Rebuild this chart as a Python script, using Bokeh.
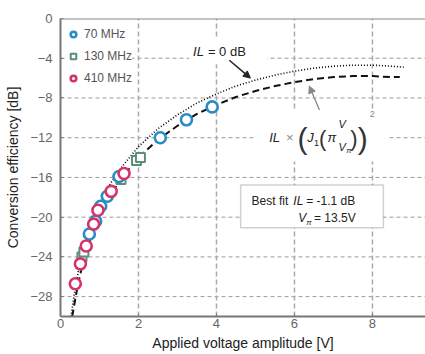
from bokeh.plotting import figure
from bokeh.models import (Arrow, NormalHead, Label, BoxAnnotation, Span, FixedTicker,
                          Range1d, Legend, LegendItem)
from bokeh.embed import file_html
from bokeh.resources import INLINE

# ---- data ----
v70 = [0.74, 0.90, 1.03, 1.20, 1.50, 2.56, 3.23, 3.89]
eff70 = [-21.7, -20.4, -18.9, -17.9, -15.9, -12.0, -10.2, -8.9]
v130 = [0.55, 0.60, 1.55, 1.95, 2.05]
eff130 = [-24.0, -23.5, -16.2, -14.3, -14.0]
v410 = [0.38, 0.51, 0.66, 0.85, 0.96, 1.30, 1.63]
eff410 = [-26.7, -24.7, -22.9, -20.7, -19.3, -17.4, -15.6]

ideal_v = [0.27, 0.35, 0.45, 0.6, 0.8, 1.0, 1.3, 1.6, 2.0, 2.5, 3.0, 3.5, 4.0, 4.5,
           5.0, 5.5, 6.0, 6.5, 7.0, 7.5, 8.0, 8.5, 8.8]
ideal_db = [-30.0, -27.8, -25.6, -23.1, -20.7, -18.7, -16.5, -14.8, -12.9, -11.1, -9.7,
            -8.5, -7.6, -6.8, -6.2, -5.7, -5.3, -5.0, -4.8, -4.7, -4.7, -4.8, -4.9]
fit_v = [0.3, 0.35, 0.45, 0.6, 0.8, 1.0, 1.3, 1.6, 2.0, 2.5, 3.0, 3.5, 4.0, 4.5,
         5.0, 5.5, 6.0, 6.5, 7.0, 7.5, 8.0, 8.5, 8.7]
fit_db = [-30.0, -28.9, -26.7, -24.2, -21.8, -19.8, -17.6, -15.9, -14.0, -12.2, -10.8,
          -9.6, -8.7, -7.9, -7.3, -6.8, -6.4, -6.1, -5.9, -5.8, -5.8, -5.9, -5.9]

x_ticks = [0, 2, 4, 6, 8]
y_ticks = [-28, -24, -20, -16, -12, -8, -4, 0]
y_min, y_max = -30, 0

BLUE = "#2a8cc4"
GREEN = "#5a8f76"
PINK = "#d6336c"
FONT = "Liberation Sans"

p = figure(width=425, height=354, x_range=Range1d(0, 9.36), y_range=Range1d(y_min, y_max),
           output_backend="svg", toolbar_location=None,
           min_border_left=60, min_border_right=0, min_border_top=18, min_border_bottom=38)
p.outline_line_color = None
p.background_fill_color = "white"
p.grid.visible = False

# axes
p.xaxis.ticker = FixedTicker(ticks=x_ticks)
p.yaxis.ticker = FixedTicker(ticks=y_ticks)
for ax in (p.xaxis[0], p.yaxis[0]):
    ax.axis_line_color = "#777777"
    ax.axis_line_width = 2
    ax.major_tick_line_color = "#777777"
    ax.major_tick_in = 3
    ax.major_tick_out = 0
    ax.minor_tick_line_color = None
    ax.major_label_text_font = FONT
    ax.major_label_text_font_size = "13px"
    ax.major_label_text_color = "#666666"
    ax.axis_label_text_font = FONT
    ax.axis_label_text_font_size = "14px"
    ax.axis_label_text_font_style = "normal"
    ax.axis_label_text_color = "#222222"
p.xaxis.axis_label = "Applied voltage amplitude [V]"
p.yaxis.axis_label = "Conversion efficiency [dB]"
p.xaxis.major_label_standoff = 2
p.xaxis.axis_label_standoff = 4
p.yaxis.major_label_standoff = 8
p.yaxis.axis_label_standoff = 6

# grid lines at the tick positions
vx = x_ticks[1:]
p.segment(x0=vx, y0=[y_min] * len(vx), x1=vx, y1=[y_max] * len(vx),
          line_color="#aaaaaa", line_width=1.5, line_dash="5 3")
for t in y_ticks[:-1]:
    p.add_layout(Span(location=t, dimension="width", line_color="#9c9c9c", line_width=1,
                      line_dash="4 3", level="underlay"))

p.add_layout(Span(location=0, dimension="width", line_color="#888888", line_width=2))

# curves
p.line(ideal_v, ideal_db, line_color="black", line_width=1.6, line_dash="1 2")
p.line(fit_v, fit_db, line_color="#111111", line_width=2, line_dash="7 4")

# data
r130 = p.scatter(v130, eff130, marker="square", size=9, line_color=GREEN, line_width=2,
                 fill_color="white")
r70 = p.scatter(v70, eff70, marker="circle", size=11, line_color=BLUE, line_width=2.6,
                fill_color="white")
r410 = p.scatter(v410, eff410, marker="circle", size=11, line_color=PINK, line_width=2.6,
                 fill_color="white")

legend = Legend(items=[LegendItem(label="70 MHz", renderers=[r70]),
                       LegendItem(label="130 MHz", renderers=[r130]),
                       LegendItem(label="410 MHz", renderers=[r410])],
                location="top_left")
legend.background_fill_color = "white"
legend.background_fill_alpha = 1
legend.border_line_color = None
legend.margin = 6
legend.padding = 5
legend.spacing = 2
legend.glyph_width = 14
legend.glyph_height = 20
legend.label_height = 20
legend.label_standoff = 4
legend.label_text_font = FONT
legend.label_text_font_size = "12px"
legend.label_text_color = "#555555"
p.add_layout(legend)

# white patches behind annotations
p.add_layout(BoxAnnotation(left=3.3, right=5.3, top=-2.0, bottom=-4.6,
                           fill_color="white", fill_alpha=1, line_color=None))
p.add_layout(BoxAnnotation(left=5.0, right=8.4, top=-9.3, bottom=-14.4,
                           fill_color="white", fill_alpha=1, line_color=None))


def lab(x, y, text, size="12px", style="normal", color="#222222", align="left",
        baseline="middle"):
    p.add_layout(Label(x=x, y=y, text=text, text_font=FONT, text_font_size=size,
                       text_font_style=style, text_color=color, text_align=align,
                       text_baseline=baseline))


# "IL = 0 dB"
lab(3.4, -3.3, "IL", size="13px", style="italic")
lab(3.78, -3.3, "= 0 dB", size="13px")
p.add_layout(Arrow(x_start=4.33, y_start=-4.2, x_end=4.87, y_end=-6.0,
                   line_color="#222222", line_width=1.5,
                   end=NormalHead(size=7, fill_color="#222222", line_color="#222222")))

# formula IL x (J1(pi V/Vpi))^2
p.add_layout(Arrow(x_start=6.64, y_start=-9.2, x_end=6.38, y_end=-6.8,
                   line_color="#888888", line_width=1.3,
                   end=NormalHead(size=7, fill_color="#888888", line_color="#888888")))
lab(5.35, -11.95, "IL", size="13px", style="italic")
lab(5.78, -11.95, "×", size="13px", color="#888888")
lab(6.08, -12.1, "(", size="30px", color="#333333")
lab(6.33, -11.95, "J", size="13px", style="italic")
lab(6.50, -12.5, "1", size="9px")
lab(6.63, -12.05, "(", size="22px", color="#333333")
lab(6.85, -11.95, "π", size="13px", style="italic")
lab(7.22, -10.6, "V", size="11px", style="italic", align="center")
lab(7.22, -12.9, "V", size="11px", style="italic", align="center")
lab(7.33, -13.3, "π", size="8px", style="italic")
lab(7.43, -12.05, ")", size="22px", color="#333333")
lab(7.62, -12.1, ")", size="30px", color="#333333")
lab(7.93, -9.6, "2", size="9px", color="#888888")

# best-fit box
p.add_layout(BoxAnnotation(left=4.62, right=8.28, top=-16.75, bottom=-21.07,
                           fill_color="white", fill_alpha=1, line_color="#666666",
                           line_width=1.5))
lab(4.9, -18.35, "Best fit", size="12px")
lab(5.97, -18.35, "IL", size="12px", style="italic")
lab(6.3, -18.35, "= -1.1 dB", size="12px")
lab(6.1, -20.05, "V", size="12px", style="italic")
lab(6.3, -20.5, "π", size="8px", style="italic")
lab(6.5, -20.05, "= 13.5V", size="12px")

open("out.html", "w").write(file_html(p, INLINE))
